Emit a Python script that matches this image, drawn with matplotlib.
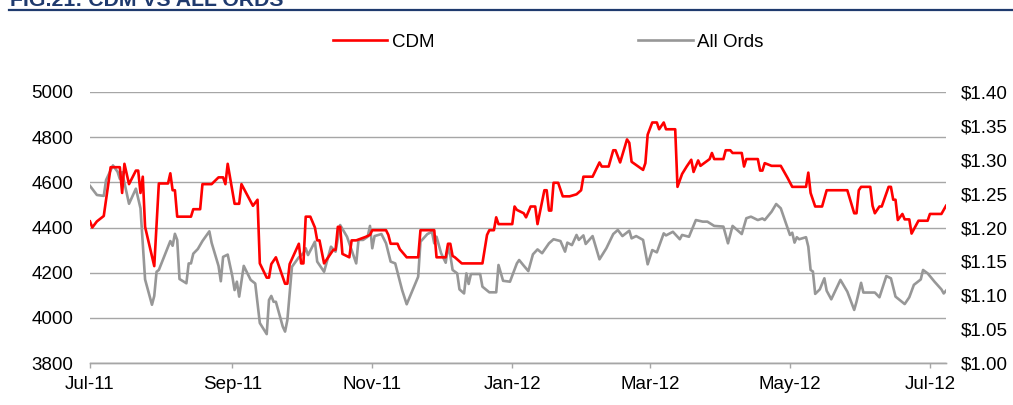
import matplotlib
matplotlib.use("Agg")
import matplotlib.pyplot as plt
import matplotlib.dates as mdates
from matplotlib.lines import Line2D
from matplotlib.ticker import FuncFormatter, MultipleLocator
import pandas as pd

plt.rcParams['font.family'] = ['Liberation Sans', 'DejaVu Sans']

# ---------------- data ----------------
allords_dates = [
    "2011-07-01", "2011-07-04", "2011-07-07", "2011-07-08", "2011-07-11", "2011-07-13", "2011-07-14", "2011-07-15",
    "2011-07-18", "2011-07-21", "2011-07-23", "2011-07-25", "2011-07-28", "2011-07-29", "2011-07-30", "2011-07-31",
    "2011-08-05", "2011-08-06", "2011-08-07", "2011-08-08", "2011-08-09", "2011-08-12", "2011-08-13", "2011-08-14",
    "2011-08-15", "2011-08-17", "2011-08-19", "2011-08-22", "2011-08-23", "2011-08-26", "2011-08-27", "2011-08-28",
    "2011-08-30", "2011-09-01", "2011-09-02", "2011-09-03", "2011-09-04", "2011-09-06", "2011-09-09", "2011-09-11",
    "2011-09-13", "2011-09-16", "2011-09-17", "2011-09-18", "2011-09-19", "2011-09-20", "2011-09-23", "2011-09-24",
    "2011-09-25", "2011-09-27", "2011-09-30", "2011-10-02", "2011-10-03", "2011-10-04", "2011-10-07", "2011-10-08",
    "2011-10-11", "2011-10-14", "2011-10-16", "2011-10-18", "2011-10-21", "2011-10-25", "2011-10-26", "2011-10-28",
    "2011-10-30", "2011-10-31", "2011-11-01", "2011-11-02", "2011-11-05", "2011-11-07", "2011-11-09", "2011-11-11",
    "2011-11-14", "2011-11-16", "2011-11-21", "2011-11-22", "2011-11-25", "2011-11-27", "2011-11-28", "2011-11-29",
    "2011-12-01", "2011-12-03", "2011-12-04", "2011-12-05", "2011-12-06", "2011-12-08", "2011-12-09", "2011-12-11",
    "2011-12-12", "2011-12-13", "2011-12-14", "2011-12-18", "2011-12-19", "2011-12-22", "2011-12-25", "2011-12-26",
    "2011-12-28", "2011-12-31", "2012-01-03", "2012-01-04", "2012-01-06", "2012-01-08", "2012-01-10", "2012-01-12",
    "2012-01-14", "2012-01-17", "2012-01-19", "2012-01-22", "2012-01-24", "2012-01-25", "2012-01-27", "2012-01-29",
    "2012-01-30", "2012-02-01", "2012-02-02", "2012-02-05", "2012-02-08", "2012-02-11", "2012-02-14", "2012-02-16",
    "2012-02-18", "2012-02-21", "2012-02-22", "2012-02-24", "2012-02-27", "2012-02-29", "2012-03-02", "2012-03-04",
    "2012-03-07", "2012-03-08", "2012-03-11", "2012-03-14", "2012-03-15", "2012-03-18", "2012-03-21", "2012-03-24",
    "2012-03-26", "2012-03-29", "2012-04-02", "2012-04-04", "2012-04-06", "2012-04-10", "2012-04-12", "2012-04-14",
    "2012-04-17", "2012-04-19", "2012-04-20", "2012-04-23", "2012-04-25", "2012-04-27", "2012-04-30", "2012-05-01",
    "2012-05-02", "2012-05-03", "2012-05-04", "2012-05-05", "2012-05-08", "2012-05-09", "2012-05-10", "2012-05-11",
    "2012-05-12", "2012-05-14", "2012-05-16", "2012-05-17", "2012-05-19", "2012-05-23", "2012-05-26", "2012-05-29",
    "2012-05-30", "2012-06-01", "2012-06-02", "2012-06-07", "2012-06-09", "2012-06-12", "2012-06-14", "2012-06-16",
    "2012-06-20", "2012-06-22", "2012-06-24", "2012-06-27", "2012-06-28", "2012-06-30", "2012-07-03", "2012-07-06",
    "2012-07-07", "2012-07-08",
]
allords_values = [
    4584, 4544, 4540, 4610, 4675, 4647, 4615, 4645,
    4505, 4572, 4485, 4170, 4058, 4097, 4204, 4212,
    4340, 4319, 4372, 4345, 4172, 4153, 4241, 4241,
    4284, 4305, 4340, 4383, 4332, 4230, 4162, 4270,
    4280, 4185, 4123, 4160, 4094, 4230, 4168, 4152,
    3977, 3928, 4079, 4097, 4071, 4071, 3961, 3939,
    3990, 4226, 4268, 4286, 4308, 4278, 4337, 4249,
    4204, 4315, 4293, 4411, 4359, 4241, 4345, 4345,
    4359, 4407, 4308, 4362, 4371, 4330, 4249, 4241,
    4123, 4060, 4182, 4337, 4371, 4381, 4330, 4359,
    4286, 4244, 4315, 4278, 4212, 4197, 4126, 4108,
    4197, 4150, 4194, 4194, 4138, 4113, 4113, 4234,
    4164, 4160, 4241, 4256, 4231, 4207, 4281, 4303,
    4286, 4330, 4348, 4340, 4293, 4333, 4322, 4367,
    4345, 4365, 4327, 4362, 4259, 4308, 4371, 4389,
    4362, 4386, 4352, 4362, 4345, 4237, 4300, 4290,
    4374, 4365, 4381, 4348, 4367, 4359, 4433, 4426,
    4426, 4407, 4404, 4330, 4407, 4371, 4441, 4448,
    4433, 4440, 4433, 4470, 4504, 4485, 4396, 4367,
    4377, 4333, 4357, 4348, 4357, 4315, 4212, 4205,
    4106, 4126, 4175, 4120, 4082, 4168, 4116, 4035,
    4071, 4155, 4112, 4112, 4091, 4185, 4175, 4094,
    4061, 4091, 4146, 4170, 4212, 4197, 4160, 4126,
    4108, 4120,
]

cdm_dates = [
    "2011-07-01", "2011-07-02", "2011-07-04", "2011-07-07", "2011-07-10", "2011-07-14", "2011-07-15", "2011-07-16",
    "2011-07-18", "2011-07-21", "2011-07-22", "2011-07-23", "2011-07-24", "2011-07-25", "2011-07-29", "2011-07-31",
    "2011-08-04", "2011-08-05", "2011-08-06", "2011-08-07", "2011-08-08", "2011-08-14", "2011-08-15", "2011-08-18",
    "2011-08-19", "2011-08-23", "2011-08-26", "2011-08-28", "2011-08-29", "2011-08-30", "2011-09-02", "2011-09-04",
    "2011-09-05", "2011-09-10", "2011-09-12", "2011-09-13", "2011-09-16", "2011-09-17", "2011-09-18", "2011-09-20",
    "2011-09-24", "2011-09-25", "2011-09-26", "2011-09-30", "2011-10-01", "2011-10-02", "2011-10-03", "2011-10-05",
    "2011-10-07", "2011-10-08", "2011-10-09", "2011-10-11", "2011-10-14", "2011-10-15", "2011-10-16", "2011-10-17",
    "2011-10-18", "2011-10-19", "2011-10-22", "2011-10-23", "2011-10-25", "2011-10-29", "2011-10-31", "2011-11-01",
    "2011-11-07", "2011-11-08", "2011-11-09", "2011-11-12", "2011-11-13", "2011-11-16", "2011-11-21", "2011-11-22",
    "2011-11-28", "2011-11-29", "2011-12-03", "2011-12-04", "2011-12-05", "2011-12-06", "2011-12-07", "2011-12-10",
    "2011-12-19", "2011-12-21", "2011-12-22", "2011-12-24", "2011-12-25", "2011-12-26", "2012-01-01", "2012-01-02",
    "2012-01-03", "2012-01-06", "2012-01-07", "2012-01-09", "2012-01-11", "2012-01-12", "2012-01-15", "2012-01-16",
    "2012-01-17", "2012-01-18", "2012-01-19", "2012-01-21", "2012-01-23", "2012-01-26", "2012-01-29", "2012-01-31",
    "2012-02-01", "2012-02-05", "2012-02-08", "2012-02-09", "2012-02-12", "2012-02-14", "2012-02-15", "2012-02-17",
    "2012-02-20", "2012-02-21", "2012-02-22", "2012-02-27", "2012-02-28", "2012-02-29", "2012-03-02", "2012-03-04",
    "2012-03-05", "2012-03-07", "2012-03-08", "2012-03-12", "2012-03-13", "2012-03-15", "2012-03-17", "2012-03-19",
    "2012-03-20", "2012-03-22", "2012-03-23", "2012-03-27", "2012-03-28", "2012-03-29", "2012-04-02", "2012-04-03",
    "2012-04-05", "2012-04-06", "2012-04-10", "2012-04-11", "2012-04-12", "2012-04-17", "2012-04-18", "2012-04-19",
    "2012-04-20", "2012-04-23", "2012-04-27", "2012-04-30", "2012-05-02", "2012-05-08", "2012-05-09", "2012-05-10",
    "2012-05-12", "2012-05-15", "2012-05-17", "2012-05-26", "2012-05-29", "2012-05-30", "2012-05-31", "2012-06-01",
    "2012-06-05", "2012-06-06", "2012-06-07", "2012-06-09", "2012-06-10", "2012-06-13", "2012-06-14", "2012-06-15",
    "2012-06-16", "2012-06-17", "2012-06-19", "2012-06-20", "2012-06-22", "2012-06-23", "2012-06-26", "2012-06-30",
    "2012-07-01", "2012-07-06", "2012-07-08",
]
cdm_values = [
    1.209, 1.200, 1.209, 1.217, 1.289, 1.289, 1.251, 1.294,
    1.264, 1.284, 1.284, 1.251, 1.275, 1.201, 1.143, 1.265,
    1.265, 1.280, 1.255, 1.255, 1.216, 1.216, 1.227, 1.227,
    1.264, 1.264, 1.274, 1.274, 1.264, 1.294, 1.235, 1.235,
    1.264, 1.232, 1.241, 1.147, 1.126, 1.126, 1.146, 1.156,
    1.117, 1.117, 1.146, 1.176, 1.147, 1.147, 1.216, 1.216,
    1.200, 1.181, 1.181, 1.147, 1.162, 1.167, 1.167, 1.201,
    1.201, 1.161, 1.156, 1.181, 1.181, 1.186, 1.189, 1.196,
    1.196, 1.189, 1.176, 1.176, 1.168, 1.156, 1.156, 1.196,
    1.196, 1.156, 1.156, 1.176, 1.176, 1.158, 1.156, 1.147,
    1.147, 1.189, 1.196, 1.196, 1.215, 1.205, 1.205, 1.231,
    1.226, 1.221, 1.215, 1.231, 1.231, 1.205, 1.255, 1.255,
    1.225, 1.225, 1.266, 1.266, 1.246, 1.246, 1.249, 1.255,
    1.275, 1.275, 1.296, 1.290, 1.290, 1.314, 1.314, 1.296,
    1.330, 1.325, 1.297, 1.285, 1.295, 1.337, 1.355, 1.355,
    1.345, 1.355, 1.345, 1.345, 1.260, 1.279, 1.290, 1.300,
    1.282, 1.299, 1.291, 1.301, 1.310, 1.301, 1.301, 1.314,
    1.314, 1.310, 1.310, 1.290, 1.301, 1.301, 1.284, 1.284,
    1.295, 1.291, 1.291, 1.273, 1.260, 1.260, 1.281, 1.251,
    1.231, 1.231, 1.255, 1.255, 1.221, 1.221, 1.255, 1.260,
    1.260, 1.232, 1.221, 1.231, 1.231, 1.260, 1.260, 1.241,
    1.241, 1.211, 1.220, 1.212, 1.212, 1.191, 1.210, 1.210,
    1.220, 1.220, 1.232,
]

left_ticks = [3800, 4000, 4200, 4400, 4600, 4800, 5000]
right_ticks = [1.00, 1.05, 1.10, 1.15, 1.20, 1.25, 1.30, 1.35, 1.40]
series_names = ["CDM", "All Ords"]
title_text = "FIG.21: CDM VS ALL ORDS"

# ---------------- styling ----------------
RED = "#FF0000"
GRAY = "#979797"
GRID = "#A6A6A6"
NAVY = "#1F3A6E"
FS = 13.5

W, H = 1013, 405
fig = plt.figure(figsize=(W / 100, H / 100), dpi=100)
ax = fig.add_axes([90 / W, 1 - 363 / H, 856 / W, 271 / H])
ax2 = ax.twinx()

ao_x = pd.to_datetime(allords_dates)
cdm_x = pd.to_datetime(cdm_dates)

ax.plot(ao_x, allords_values, color=GRAY, lw=1.9, solid_joinstyle='round', zorder=3)
ax2.plot(cdm_x, cdm_values, color=RED, lw=1.9, solid_joinstyle='round', zorder=3)

ax.set_ylim(left_ticks[0], left_ticks[-1])
ax.set_yticks(left_ticks)
ax2.set_ylim(right_ticks[0], right_ticks[-1])
ax2.set_yticks(right_ticks)
ax2.yaxis.set_major_formatter(FuncFormatter(lambda v, p: f"${v:.2f}"))

ax.set_xlim(pd.Timestamp("2011-07-01"), pd.Timestamp("2012-07-08"))
ax.xaxis.set_major_locator(mdates.MonthLocator(bymonth=[1, 3, 5, 7, 9, 11]))
ax.xaxis.set_major_formatter(mdates.DateFormatter("%b-%y"))

ax.grid(axis='y', color=GRID, lw=1.0, zorder=0)
ax.set_axisbelow(True)

for a in (ax, ax2):
    for s in ("top", "left", "right"):
        a.spines[s].set_visible(False)
    a.spines["bottom"].set_color(GRID)
    a.spines["bottom"].set_linewidth(1.0)

ax.tick_params(axis='x', length=3.8, width=1.0, color=GRID, pad=5.5, labelsize=FS, labelcolor="black")
ax.tick_params(axis='y', length=0, pad=12, labelsize=FS, labelcolor="black")
ax2.tick_params(axis='y', length=0, pad=11, labelsize=FS, labelcolor="black")

# Legend
handles = [Line2D([], [], color=RED, lw=1.9), Line2D([], [], color=GRAY, lw=1.9)]
fig.legend(handles, series_names, loc='center left',
           bbox_to_anchor=(333 / W, 1 - 42 / H), bbox_transform=fig.transFigure,
           ncol=2, frameon=False, fontsize=FS, borderpad=0, borderaxespad=0,
           handlelength=2.9, handletextpad=0.22, columnspacing=10.9)

# Title (clipped at top) and rule
fig.text(10 / W, 1 - 6 / H, title_text, fontsize=15.3, fontweight='bold',
         color=NAVY, ha='left', va='baseline')
fig.add_artist(Line2D([9 / W, 1.0], [1 - 10 / H, 1 - 10 / H], transform=fig.transFigure,
                      color=NAVY, lw=1.6))

fig.savefig("out.png", dpi=100)
